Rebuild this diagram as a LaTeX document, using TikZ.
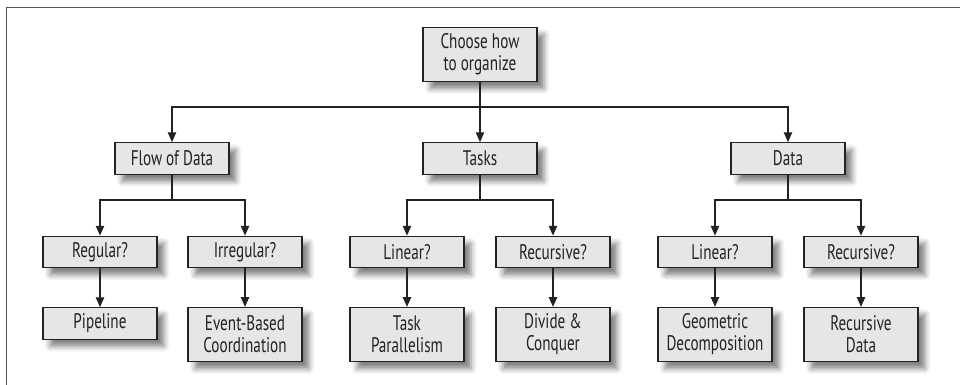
\documentclass[tikz,border=0pt]{standalone}
\usepackage{fontspec}
\setmainfont{PT Sans}[FakeStretch=0.72]
\usetikzlibrary{arrows.meta}
\usetikzlibrary{shadows.blur}
\definecolor{boxgray}{HTML}{E6E6E6}
\definecolor{framegray}{HTML}{555555}
\definecolor{inkgray}{HTML}{222222}
\tikzset{
  choice/.style={draw=inkgray, line width=0.8pt, fill=boxgray, minimum width=81pt,
    minimum height=22.5pt, inner sep=2pt, align=center, text=inkgray,
    font=\fontsize{15}{15.6}\selectfont,
    blur shadow={shadow xshift=5pt, shadow yshift=-5pt, shadow blur radius=4pt, shadow opacity=50}},
  tallchoice/.style={choice, minimum height=38.5pt},
  bus/.style={draw=inkgray, line width=0.8pt},
  link/.style={bus, -{Triangle[length=7pt,width=6pt]}}
}
\begin{document}
\begin{tikzpicture}[x=0.025cm,y=-0.025cm]
  \useasboundingbox (0,0) rectangle (960,385);
  \draw[framegray, line width=0.7pt] (6,385) -- (6,7) -- (960,7);

  \node[tallchoice] (root) at (480,54.5) {Choose how\\to organize};

  \node[choice] (flow) at (172,158.5) {Flow of Data};
  \node[choice] (tasks) at (480,158.5) {Tasks};
  \node[choice] (data) at (788,158.5) {Data};

  \node[choice] (regular) at (100,252) {Regular?};
  \node[choice] (irregular) at (245,252) {Irregular?};
  \node[choice] (tlinear) at (407,252) {Linear?};
  \node[choice] (trecursive) at (553,252) {Recursive?};
  \node[choice] (dlinear) at (715,252) {Linear?};
  \node[choice] (drecursive) at (861,252) {Recursive?};

  \node[choice] (pipeline) at (100,323.5) {Pipeline};
  \node[tallchoice] (event) at (245,334.5) {Event-Based\\Coordination};
  \node[tallchoice] (taskpar) at (407,334.5) {Task\\Parallelism};
  \node[tallchoice] (divide) at (553,334.5) {Divide \&\\Conquer};
  \node[tallchoice] (geometric) at (715,334.5) {Geometric\\Decomposition};
  \node[tallchoice] (recdata) at (861,334.5) {Recursive\\Data};

  \coordinate (top) at (480,107);
  \draw[bus] (root) -- (top);
  \draw[link] (top) -| (flow);
  \draw[link] (top) -| (data);
  \draw[link] (top) -- (tasks);

  \coordinate (fbus) at (172,200);
  \coordinate (tbus) at (480,200);
  \coordinate (dbus) at (788,200);
  \draw[bus] (flow) -- (fbus);
  \draw[bus] (tasks) -- (tbus);
  \draw[bus] (data) -- (dbus);
  \draw[link] (fbus) -| (regular);
  \draw[link] (fbus) -| (irregular);
  \draw[link] (tbus) -| (tlinear);
  \draw[link] (tbus) -| (trecursive);
  \draw[link] (dbus) -| (dlinear);
  \draw[link] (dbus) -| (drecursive);

  \foreach \a/\b in {regular/pipeline, irregular/event, tlinear/taskpar,
    trecursive/divide, dlinear/geometric, drecursive/recdata}
    \draw[link] (\a) -- (\b);
\end{tikzpicture}
\end{document}
